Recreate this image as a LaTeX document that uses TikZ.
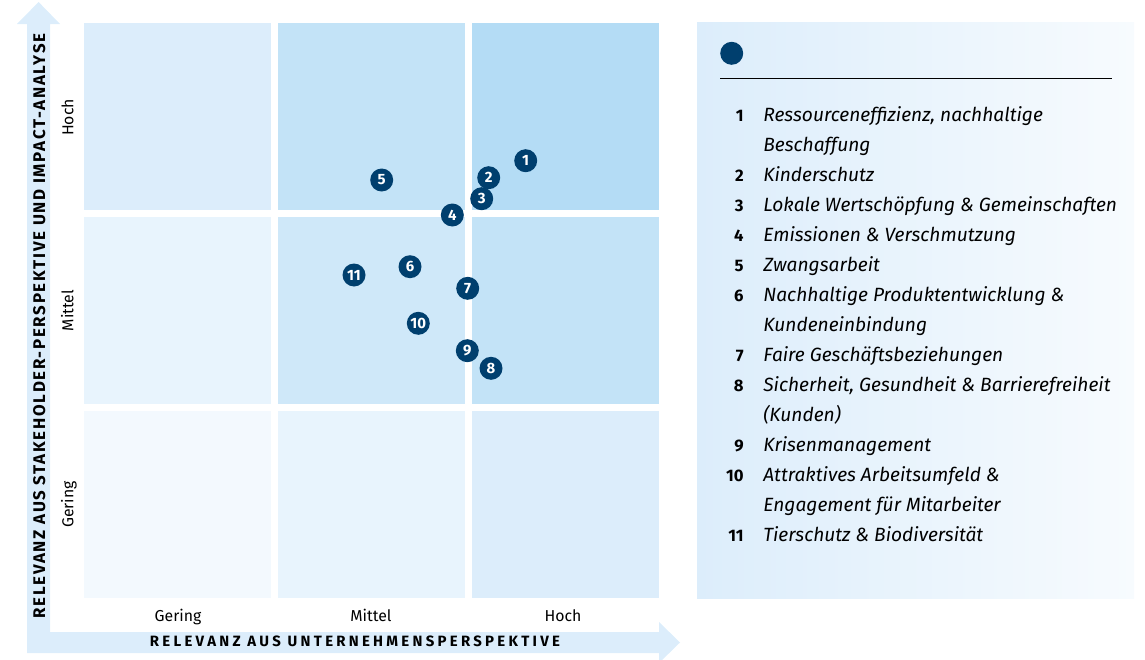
\documentclass[tikz,border=0pt]{standalone}
\usepackage{fontspec}
\setmainfont{Fira Sans}
\newfontfamily\axisfont[LetterSpace=22]{Fira Sans}
\newfontfamily\sideaxisfont[LetterSpace=10]{Fira Sans}
\definecolor{navy}{HTML}{003F6E}
\definecolor{arrowblue}{HTML}{DCEDFB}
\definecolor{cellA}{HTML}{F3F9FE}
\definecolor{cellB}{HTML}{E8F4FD}
\definecolor{cellC}{HTML}{DCEDFB}
\definecolor{cellD}{HTML}{CFE8F9}
\definecolor{cellE}{HTML}{C3E3F7}
\definecolor{cellF}{HTML}{B4DCF5}
\definecolor{panelleft}{HTML}{DCEDFB}
\definecolor{panelright}{HTML}{F7FBFE}
\tikzset{
  topic/.style={circle, fill=navy, text=white, inner sep=0pt, minimum size=0.46cm,
    font=\fontsize{8.5}{10}\selectfont\bfseries},
  tick/.style={anchor=base, inner sep=0pt, font=\fontsize{9}{11}\selectfont},
  axistitle/.style={anchor=base, inner sep=0pt, font=\fontsize{8.5}{10}\axisfont\bfseries},
  sidetitle/.style={anchor=base, inner sep=0pt, rotate=90, font=\fontsize{9.6}{11}\sideaxisfont\bfseries},
  itemno/.style={anchor=base east, inner sep=0pt, font=\fontsize{9.5}{11}\selectfont\bfseries},
  itemtext/.style={anchor=base west, inner sep=0pt, font=\fontsize{10.9}{13}\selectfont\itshape}
}
\begin{document}
\begin{tikzpicture}[x=0.02cm,y=-0.02cm]
                        \useasboundingbox (0,0) rectangle (1145,659);
                        {\footnotesize

                        % Drawing both axis arrows as one shape
                        \fill [arrowblue] (27,653) -- (27,24) -- (17,24) -- (38.6,2) -- (60,24) -- (50,24) -- (50,632)
                              -- (659,632) -- (659,622) -- (680,642.5) -- (659,663) -- (659,653) -- cycle;%

                        % Drawing the nine cells, top row first
                        \fill [cellC] (84,23) rectangle (271,210);%
                        \fill [cellE] (278,23) rectangle (465,210);%
                        \fill [cellF] (472,23) rectangle (659,210);%
                        \fill [cellB] (84,217) rectangle (271,404);%
                        \fill [cellD] (278,217) rectangle (465,404);%
                        \fill [cellE] (472,217) rectangle (659,404);%
                        \fill [cellA] (84,411) rectangle (271,598);%
                        \fill [cellB] (278,411) rectangle (465,598);%
                        \fill [cellC] (472,411) rectangle (659,598);%

                        % Marking ticks of the horizontal axis
                        \draw (178,621.7) node [tick] (xlow) { Gering };%
                        \draw (371,621.7) node [tick] (xmid) { Mittel };%
                        \draw (563,621.7) node [tick] (xhigh) { Hoch };%

                        % Marking ticks of the vertical axis
                        \draw (73.3,117.5) node [tick, rotate=90] (yhigh) { Hoch };%
                        \draw (73.3,310.5) node [tick, rotate=90] (ymid) { Mittel };%
                        \draw (73.3,504.5) node [tick, rotate=90] (ylow) { Gering };%

                        % Marking axis titles
                        \draw (355,646.7) node [axistitle] (xtitle) { RELEVANZ AUS UNTERNEHMENSPERSPEKTIVE };%
                        \draw (45,326) node [sidetitle] (ytitle) { RELEVANZ AUS STAKEHOLDER-PERSPEKTIVE UND IMPACT-ANALYSE };%

                        % Marking topics 1 to 11 by filled circles
                        \draw (525.7,160.7) node [topic] (t1) { 1 };%
                        \draw (488.7,177.7) node [topic] (t2) { 2 };%
                        \draw (481.7,198.7) node [topic] (t3) { 3 };%
                        \draw (452.3,215.0) node [topic] (t4) { 4 };%
                        \draw (381.7,180.0) node [topic] (t5) { 5 };%
                        \draw (410.0,266.7) node [topic] (t6) { 6 };%
                        \draw (467.7,288.3) node [topic] (t7) { 7 };%
                        \draw (491.0,368.3) node [topic] (t8) { 8 };%
                        \draw (467.3,350.7) node [topic] (t9) { 9 };%
                        \draw (418.3,323.3) node [topic] (t10) { 10 };%
                        \draw (354.0,275.0) node [topic] (t11) { 11 };%

                        % Drawing the legend panel
                        \shade [left color=panelleft, right color=panelright] (697,22) rectangle (1134,598);%
                        \draw (731.7,53.3) node [topic] (legenddot) {};%
                        \draw [line width=0.6pt] (720,78.3) -- (1111.7,78.3);%

                        % Marking legend entries
                        \draw (744,121.7) node [itemno] (n1) { 1 };%
                        \draw (763,121.7) node [itemtext] (l1a) { Ressourceneffizienz, nachhaltige };%
                        \draw (763,151.7) node [itemtext] (l1b) { Beschaffung };%
                        \draw (744,181.7) node [itemno] (n2) { 2 };%
                        \draw (763,181.7) node [itemtext] (l2) { Kinderschutz };%
                        \draw (744,211.7) node [itemno] (n3) { 3 };%
                        \draw (763,211.7) node [itemtext] (l3) { Lokale Wertschöpfung \& Gemeinschaften };%
                        \draw (744,241.7) node [itemno] (n4) { 4 };%
                        \draw (763,241.7) node [itemtext] (l4) { Emissionen \& Verschmutzung };%
                        \draw (744,271.7) node [itemno] (n5) { 5 };%
                        \draw (763,271.7) node [itemtext] (l5) { Zwangsarbeit };%
                        \draw (744,301.7) node [itemno] (n6) { 6 };%
                        \draw (763,301.7) node [itemtext] (l6a) { Nachhaltige Produktentwicklung \& };%
                        \draw (763,331.7) node [itemtext] (l6b) { Kundeneinbindung };%
                        \draw (744,361.7) node [itemno] (n7) { 7 };%
                        \draw (763,361.7) node [itemtext] (l7) { Faire Geschäftsbeziehungen };%
                        \draw (744,391.7) node [itemno] (n8) { 8 };%
                        \draw (763,391.7) node [itemtext] (l8a) { Sicherheit, Gesundheit \& Barrierefreiheit };%
                        \draw (763,421.7) node [itemtext] (l8b) { (Kunden) };%
                        \draw (744,451.7) node [itemno] (n9) { 9 };%
                        \draw (763,451.7) node [itemtext] (l9) { Krisenmanagement };%
                        \draw (744,481.7) node [itemno] (n10) { 10 };%
                        \draw (763,481.7) node [itemtext] (l10a) { Attraktives Arbeitsumfeld \& };%
                        \draw (763,511.7) node [itemtext] (l10b) { Engagement für Mitarbeiter };%
                        \draw (744,541.7) node [itemno] (n11) { 11 };%
                        \draw (763,541.7) node [itemtext] (l11) { Tierschutz \& Biodiversität };%
                        }
                    \end{tikzpicture}
\end{document}
